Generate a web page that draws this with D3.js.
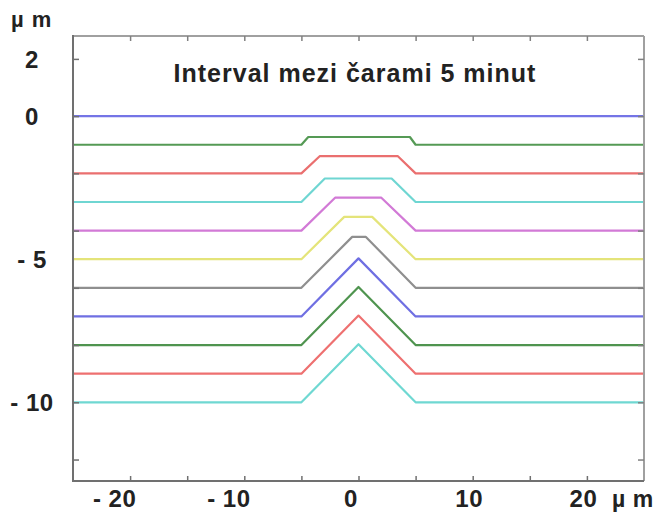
<!DOCTYPE html>
<html>
<head>
<meta charset="utf-8">
<script src="https://cdn.jsdelivr.net/npm/d3@7/dist/d3.min.js"></script>
<style>
  html, body { margin: 0; padding: 0; background: #ffffff; }
  svg { display: block; }
  text { font-family: "Liberation Sans", Arial, sans-serif; fill: #222; }
</style>
</head>
<body>
<svg id="chart" width="663" height="520"></svg>
<script>
// ---- data ----
const baselines     = [0, -1, -2, -3, -4, -5, -6, -7, -8, -9, -10];
const bumpHeights   = [0, 0.27, 0.6, 0.82, 1.15, 1.48, 1.78, 2.03, 2.03, 2.03, 2.03];
const plateauLeft   = [-5, -4.4, -3.4, -2.95, -2.05, -1.25, -0.55, 0, 0, 0, 0];
const plateauRight  = [5, 4.5, 3.45, 2.9, 2.0, 1.2, 0.65, 0, 0, 0, 0];
const bumpFeet      = [-5, 5];
const xExtent       = [-25, 25];
const lineColors    = ["#7474e6", "#559a55", "#ea6f6f", "#6fd6d2", "#d27ad6", "#e4e47a",
                       "#8f8f8f", "#6f6fe2", "#4f944f", "#ee7070", "#6fd8d2"];
const xTickValues   = [-20, -15, -10, -5, 0, 5, 10, 15, 20];
const xLabelValues  = [-20, -10, 0, 10, 20];
const yTickValues   = [2, 0, -2, -4, -6, -8, -10, -12];
const yLabelValues  = [2, 0, -5, -10];
const title         = "Interval mezi čarami 5 minut";
const unitLabel     = "µ m";

(function () {
// ---- layout ----
const mL = 73, mR = 644, mT = 36, mB = 481;
const svg = d3.select("#chart");

const x = d3.scaleLinear().domain([-25, 25]).range([mL, mR]);
const y = d3.scaleLinear().domain([-12.75, 2.8]).range([mB, mT]);

// profiles
const profiles = baselines.map((b, i) => {
  const h = bumpHeights[i];
  if (h === 0) return [[xExtent[0], b], [xExtent[1], b]];
  return [
    [xExtent[0], b], [bumpFeet[0], b],
    [plateauLeft[i], b + h], [plateauRight[i], b + h],
    [bumpFeet[1], b], [xExtent[1], b]
  ];
});

const line = d3.line().x(d => x(d[0])).y(d => y(d[1]));

svg.append("g").selectAll("path").data(profiles).join("path")
  .attr("d", line)
  .attr("fill", "none")
  .attr("stroke", (d, i) => lineColors[i])
  .attr("stroke-width", 2.2)
  .attr("stroke-linejoin", "round");

// frame
const frame = svg.append("g");
frame.append("line").attr("x1", mL).attr("x2", mR).attr("y1", mT).attr("y2", mT)
  .attr("stroke", "#a0a0a0").attr("stroke-width", 2);
frame.append("line").attr("x1", mR).attr("x2", mR).attr("y1", mT).attr("y2", mB)
  .attr("stroke", "#a0a0a0").attr("stroke-width", 2);
frame.append("line").attr("x1", mL).attr("x2", mR).attr("y1", mB).attr("y2", mB)
  .attr("stroke", "#707070").attr("stroke-width", 2);
frame.append("line").attr("x1", mL).attr("x2", mL).attr("y1", mT - 1).attr("y2", mB + 1)
  .attr("stroke", "#707070").attr("stroke-width", 2);

// inward ticks
function styleTicks(g, col) {
  g.select(".domain").remove();
  g.selectAll(".tick line").attr("stroke", col).attr("stroke-width", 1.5);
  g.selectAll(".tick text").remove();
}
svg.append("g").attr("transform", `translate(0,${mB})`)
  .call(d3.axisBottom(x).tickValues(xTickValues).tickSize(-5).tickFormat(""))
  .call(g => styleTicks(g, "#707070"));
svg.append("g").attr("transform", `translate(0,${mT})`)
  .call(d3.axisTop(x).tickValues(xTickValues).tickSize(-5).tickFormat(""))
  .call(g => styleTicks(g, "#808080"));
svg.append("g").attr("transform", `translate(${mL},0)`)
  .call(d3.axisLeft(y).tickValues(yTickValues).tickSize(-6).tickFormat(""))
  .call(g => styleTicks(g, "#707070"));
svg.append("g").attr("transform", `translate(${mR},0)`)
  .call(d3.axisRight(y).tickValues(yTickValues).tickSize(-6).tickFormat(""))
  .call(g => styleTicks(g, "#808080"));

const fmt = v => v < 0 ? "- " + Math.abs(v) : String(v);

// x labels
const xl = svg.append("g").attr("transform", `translate(0,${mB})`)
  .call(d3.axisBottom(x).tickValues(xLabelValues).tickSize(0).tickPadding(0).tickFormat(fmt));
xl.select(".domain").remove();
xl.selectAll(".tick text")
  .attr("font-family", "Liberation Sans, Arial, sans-serif")
  .attr("font-size", 24).attr("font-weight", "bold").attr("letter-spacing", 0.5)
  .attr("fill", "#222").attr("dx", d => d < 0 ? -16 : (d === 0 ? -8 : -4))
  .attr("y", 25.5).attr("dy", 0);

// y labels
const yl = svg.append("g").attr("transform", `translate(${mL},0)`)
  .call(d3.axisLeft(y).tickValues(yLabelValues).tickSize(0).tickPadding(0).tickFormat(fmt));
yl.select(".domain").remove();
yl.selectAll(".tick text")
  .attr("font-family", "Liberation Sans, Arial, sans-serif")
  .attr("font-size", 24).attr("font-weight", "bold").attr("letter-spacing", 0.5)
  .attr("fill", "#222").attr("text-anchor", "middle").attr("x", 32 - mL).attr("dy", "0.36em");

// unit labels
svg.append("text").attr("x", 11).attr("y", 27)
  .attr("font-size", 22).attr("font-weight", "bold").attr("letter-spacing", 1).text(unitLabel);
svg.append("text").attr("x", 612).attr("y", mB + 25.5)
  .attr("font-size", 23).attr("font-weight", "bold").attr("letter-spacing", 0.5).text(unitLabel);

// title
svg.append("text").attr("x", 355).attr("y", 73).attr("dy", "0.36em")
  .attr("text-anchor", "middle").attr("font-size", 25).attr("font-weight", "bold")
  .attr("letter-spacing", 1).attr("fill", "#2a2a2a").text(title);
})();
</script>
</body>
</html>
